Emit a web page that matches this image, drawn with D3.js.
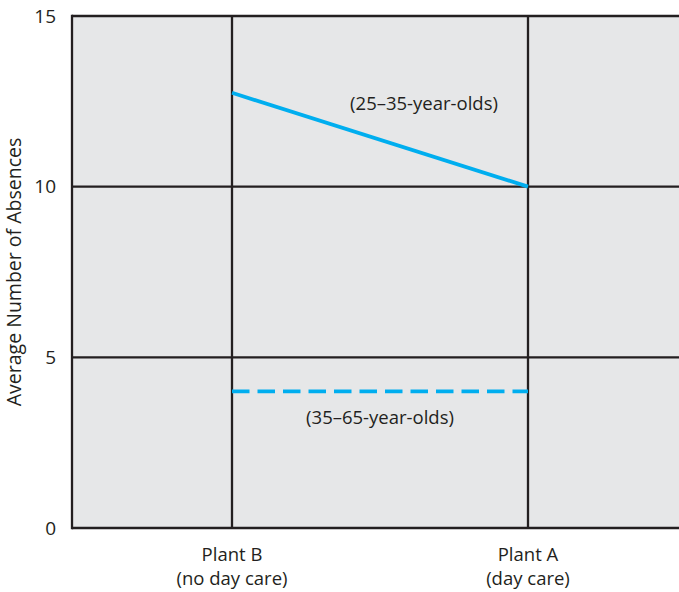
<!DOCTYPE html>
<html>
<head>
<meta charset="utf-8">
<script src="https://cdn.jsdelivr.net/npm/d3@7/dist/d3.min.js"></script>
<style>
  html, body { margin: 0; padding: 0; background: #fff; }
  svg { display: block; }
  text { font-family: "Open Sans", "Noto Sans", sans-serif; fill: #231f20; }
</style>
</head>
<body>
<svg id="chart" width="679" height="592"></svg>
<script>
// Plants compared and their axis labels
const plants = ["Plant B", "Plant A"];
const plantNotes = ["(no day care)", "(day care)"];

// Average absences per age group at each plant
const youngerAbsences = [12.75, 10];   // 25–35-year-olds
const olderAbsences = [4, 4];          // 35–65-year-olds
const seriesLabels = ["(25–35-year-olds)", "(35–65-year-olds)"];

const yTicks = [0, 5, 10, 15];

const svg = d3.select("#chart");
const W = 679, H = 592;
const plot = { left: 72, top: 16, right: 679, bottom: 528 };

const y = d3.scaleLinear().domain([0, 15]).range([plot.bottom, plot.top]);
const x = d3.scalePoint().domain(plants).range([232, 528]);

const ink = "#231f20";
const blue = "#00aeef";
const fs = 18.5;

// Plot background
svg.append("rect")
  .attr("x", plot.left).attr("y", plot.top)
  .attr("width", plot.right - plot.left + 5)
  .attr("height", plot.bottom - plot.top)
  .attr("fill", "#e6e7e8");

// Horizontal grid lines (including top and bottom frame)
svg.append("g").selectAll("line").data(yTicks).join("line")
  .attr("x1", plot.left).attr("x2", W + 5)
  .attr("y1", d => y(d)).attr("y2", d => y(d))
  .attr("stroke", ink).attr("stroke-width", 2.3);

// Vertical grid lines at each plant
svg.append("g").selectAll("line").data(plants).join("line")
  .attr("x1", d => x(d)).attr("x2", d => x(d))
  .attr("y1", plot.top).attr("y2", plot.bottom)
  .attr("stroke", ink).attr("stroke-width", 2.3);

// Left frame edge
svg.append("line")
  .attr("x1", plot.left).attr("x2", plot.left)
  .attr("y1", plot.top - 1.15).attr("y2", plot.bottom + 1.15)
  .attr("stroke", ink).attr("stroke-width", 2.3);

// Y tick labels
svg.append("g").selectAll("text").data(yTicks).join("text")
  .attr("x", 56).attr("y", d => y(d))
  .attr("dy", "0.35em")
  .attr("text-anchor", "end")
  .attr("font-size", 19)
  .text(d => d);

// Y axis title
svg.append("text")
  .attr("transform", `translate(21,${(plot.top + plot.bottom) / 2}) rotate(-90)`)
  .attr("text-anchor", "middle")
  .attr("font-size", 19.5)
  .text("Average Number of Absences");

// Category labels
const cat = svg.append("g").selectAll("g").data(plants).join("g")
  .attr("transform", d => `translate(${x(d)},0)`);
cat.append("text").attr("y", 561).attr("text-anchor", "middle")
  .attr("font-size", fs).text(d => d);
cat.append("text").attr("y", 585).attr("text-anchor", "middle")
  .attr("font-size", fs).text((d, i) => plantNotes[i]);

const line = d3.line().x((d, i) => x(plants[i])).y(d => y(d));

// 25–35-year-olds: solid
svg.append("path").datum(youngerAbsences)
  .attr("d", line).attr("fill", "none")
  .attr("stroke", blue).attr("stroke-width", 3.8);

// 35–65-year-olds: dashed
svg.append("path").datum(olderAbsences)
  .attr("d", line).attr("fill", "none")
  .attr("stroke", blue).attr("stroke-width", 3.8)
  .attr("stroke-dasharray", "17.5 8");

// Series labels
svg.append("text").attr("x", 424).attr("y", 110)
  .attr("text-anchor", "middle").attr("font-size", fs)
  .text(seriesLabels[0]);
svg.append("text").attr("x", 380).attr("y", 424)
  .attr("text-anchor", "middle").attr("font-size", fs)
  .text(seriesLabels[1]);
</script>
</body>
</html>
